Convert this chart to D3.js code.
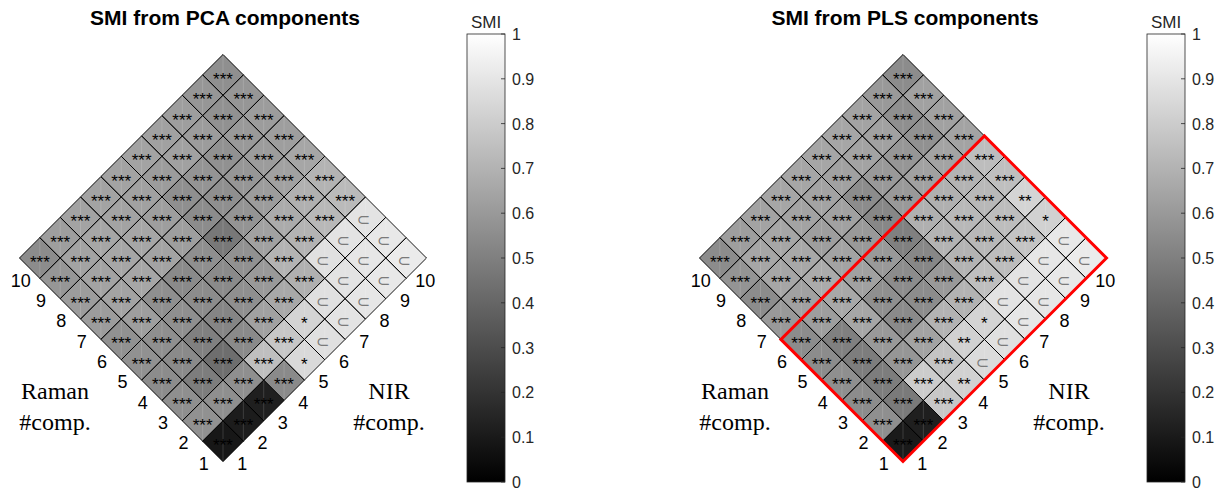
<!DOCTYPE html>
<html>
<head>
<meta charset="utf-8">
<script src="https://cdnjs.cloudflare.com/ajax/libs/d3/7.8.5/d3.min.js"></script>
<style>
body { margin:0; background:#fff; }
text { font-family: Arial, "Liberation Sans", Helvetica, sans-serif; }
</style>
</head>
<body>
<script>
var comps = [1,2,3,4,5,6,7,8,9,10];

// rows = Raman #comp. 1..10, columns = NIR #comp. 1..10
var pcaSMI = [
  [0.09,0.11,0.12,0.54,0.85,0.88,0.89,0.90,0.91,0.92],
  [0.57,0.56,0.56,0.75,0.78,0.83,0.88,0.89,0.90,0.91],
  [0.56,0.49,0.43,0.54,0.63,0.66,0.69,0.88,0.89,0.89],
  [0.55,0.54,0.50,0.52,0.56,0.60,0.70,0.70,0.72,0.73],
  [0.57,0.56,0.56,0.55,0.54,0.57,0.63,0.67,0.69,0.70],
  [0.57,0.62,0.56,0.54,0.56,0.47,0.58,0.61,0.63,0.65],
  [0.61,0.64,0.65,0.64,0.62,0.55,0.56,0.59,0.61,0.62],
  [0.61,0.64,0.65,0.65,0.62,0.56,0.58,0.57,0.60,0.61],
  [0.59,0.64,0.65,0.64,0.63,0.61,0.63,0.61,0.57,0.59],
  [0.55,0.62,0.64,0.64,0.64,0.64,0.63,0.62,0.59,0.56]
];
var plsSMI = [
  [0.10,0.12,0.78,0.82,0.86,0.88,0.90,0.90,0.91,0.92],
  [0.56,0.48,0.80,0.77,0.82,0.83,0.89,0.89,0.90,0.91],
  [0.55,0.49,0.59,0.64,0.70,0.70,0.75,0.74,0.77,0.82],
  [0.56,0.49,0.60,0.54,0.55,0.60,0.70,0.72,0.74,0.83],
  [0.55,0.50,0.65,0.56,0.55,0.53,0.70,0.72,0.72,0.75],
  [0.55,0.62,0.66,0.63,0.60,0.50,0.69,0.69,0.70,0.74],
  [0.60,0.63,0.67,0.64,0.60,0.53,0.60,0.63,0.64,0.64],
  [0.55,0.65,0.66,0.62,0.63,0.55,0.60,0.59,0.57,0.63],
  [0.58,0.65,0.65,0.64,0.64,0.63,0.64,0.63,0.56,0.63],
  [0.55,0.62,0.64,0.65,0.65,0.65,0.65,0.64,0.60,0.55]
];

var pcaSig = [
  ["***","***","***","***","*","⊂","⊂","⊂","⊂","⊂"],
  ["***","***","***","***","***","*","⊂","⊂","⊂","⊂"],
  ["***","***","***","***","***","***","***","⊂","⊂","⊂"],
  ["***","***","***","***","***","***","***","***","***","***"],
  ["***","***","***","***","***","***","***","***","***","***"],
  ["***","***","***","***","***","***","***","***","***","***"],
  ["***","***","***","***","***","***","***","***","***","***"],
  ["***","***","***","***","***","***","***","***","***","***"],
  ["***","***","***","***","***","***","***","***","***","***"],
  ["***","***","***","***","***","***","***","***","***","***"]
];
var plsSig = [
  ["***","***","***","**","⊂","⊂","⊂","⊂","⊂","⊂"],
  ["***","***","***","***","**","*","⊂","⊂","⊂","⊂"],
  ["***","***","***","***","***","***","***","***","***","*"],
  ["***","***","***","***","***","***","***","***","***","**"],
  ["***","***","***","***","***","***","***","***","***","***"],
  ["***","***","***","***","***","***","***","***","***","***"],
  ["***","***","***","***","***","***","***","***","***","***"],
  ["***","***","***","***","***","***","***","***","***","***"],
  ["***","***","***","***","***","***","***","***","***","***"],
  ["***","***","***","***","***","***","***","***","***","***"]
];

var cbTicks = [0,0.1,0.2,0.3,0.4,0.5,0.6,0.7,0.8,0.9,1];
var titles = ["SMI from PCA components","SMI from PLS components"];
var plsBox = {raman: 6, nir: 10};

var panels = [
  {title: titles[0], smi: pcaSMI, sig: pcaSig, cx: 223, box: null},
  {title: titles[1], smi: plsSMI, sig: plsSig, cx: 903, box: plsBox}
];

var svg = d3.select("body").append("svg").attr("width",1225).attr("height",492);

var bottomY = 461.5;
var s = d3.scaleLinear().domain([0, comps.length]).range([0, 203.5]);
var gray = d3.scaleLinear().domain([0,1]).range(["#000","#fff"]);
var cb = d3.scaleLinear().domain([0,1]).range([482, 34]);

// grid point (a along Raman, b along NIR) -> screen
function pt(cx, a, b) { return [cx + s(b) - s(a), bottomY - s(a) - s(b)]; }

var defs = svg.append("defs");
var grad = defs.append("linearGradient").attr("id","cbgrad")
    .attr("x1",0).attr("y1",1).attr("x2",0).attr("y2",0);
grad.append("stop").attr("offset","0%").attr("stop-color",gray(0));
grad.append("stop").attr("offset","100%").attr("stop-color",gray(1));

panels.forEach(function(p, pi){
  var g = svg.append("g");
  var N = comps.length;
  var cells = [];
  comps.forEach(function(r, i){
    comps.forEach(function(n, j){
      cells.push({r: r, n: n, v: p.smi[i][j], sig: p.sig[i][j]});
    });
  });
  function cellPath(d){
    return "M" + [pt(p.cx,d.r-1,d.n-1), pt(p.cx,d.r-1,d.n), pt(p.cx,d.r,d.n), pt(p.cx,d.r,d.n-1)].join("L") + "Z";
  }

  g.selectAll("path.fill").data(cells).join("path")
    .attr("class","fill")
    .attr("d", cellPath)
    .attr("fill", function(d){ return gray(d.v); })
    .attr("stroke", function(d){ return gray(d.v); })
    .attr("stroke-width", 0.5);

  // faint vertical seams of the shaded surface
  var diamond = [pt(p.cx,0,0), pt(p.cx,N,0), pt(p.cx,N,N), pt(p.cx,0,N)];
  defs.append("clipPath").attr("id","clip"+pi)
    .append("path").attr("d","M"+diamond.join("L")+"Z");
  g.append("g").attr("clip-path","url(#clip"+pi+")")
    .selectAll("line").data(d3.range(-N+1, N)).join("line")
    .attr("x1", function(j){ return p.cx + s(j/2)*2; })
    .attr("x2", function(j){ return p.cx + s(j/2)*2; })
    .attr("y1", bottomY - s(2*N)).attr("y2", bottomY)
    .attr("stroke","#fff").attr("stroke-opacity",0.15).attr("stroke-width",1);

  g.selectAll("path.edge").data(cells).join("path")
    .attr("class","edge")
    .attr("d", cellPath)
    .attr("fill","none")
    .attr("stroke","#000")
    .attr("stroke-width",0.9);

  g.selectAll("text.sig").data(cells).join("text")
    .attr("class","sig")
    .attr("x", function(d){ return pt(p.cx, d.r-0.5, d.n-0.5)[0] + (d.sig==="⊂" ? -2 : 0); })
    .attr("y", function(d){ return pt(p.cx, d.r-0.5, d.n-0.5)[1] + (d.sig==="⊂" ? 8 : 10); })
    .attr("text-anchor","middle")
    .attr("font-size", function(d){ return d.sig==="⊂" ? 16 : 17; })
    .attr("fill", function(d){ return d.sig==="⊂" ? "#7a7a7a" : "#000"; })
    .style("font-family", function(d){ return d.sig==="⊂" ? "'DejaVu Sans', sans-serif" : null; })
    .text(function(d){ return d.sig; });

  if (p.box) {
    var b = p.box;
    g.append("path")
      .attr("d","M"+[pt(p.cx,0,0), pt(p.cx,b.raman,0), pt(p.cx,b.raman,b.nir), pt(p.cx,0,b.nir)].join("L")+"Z")
      .attr("fill","none").attr("stroke","#ff0000").attr("stroke-width",3);
  }

  // component numbers along both lower edges
  g.selectAll("text.rl").data(comps).join("text")
    .attr("x", function(k){ return pt(p.cx, k-0.5, 0)[0] - 9; })
    .attr("y", function(k){ return pt(p.cx, k-0.5, 0)[1] + 18.5; })
    .attr("text-anchor","middle").attr("font-size",18)
    .text(function(k){ return k; });
  g.selectAll("text.nl").data(comps).join("text")
    .attr("x", function(k){ return pt(p.cx, 0, k-0.5)[0] + 9; })
    .attr("y", function(k){ return pt(p.cx, 0, k-0.5)[1] + 18.5; })
    .attr("text-anchor","middle").attr("font-size",18)
    .text(function(k){ return k; });

  var serif = "'Liberation Serif', 'Times New Roman', serif";
  [["Raman", p.cx-168], ["NIR", p.cx+166]].forEach(function(a){
    g.append("text").attr("x",a[1]).attr("y",399).attr("text-anchor","middle")
      .attr("font-size",24).style("font-family",serif).text(a[0]);
    g.append("text").attr("x",a[1]).attr("y",430).attr("text-anchor","middle")
      .attr("font-size",24).style("font-family",serif).text("#comp.");
  });

  g.append("text").attr("x",p.cx+2).attr("y",25).attr("text-anchor","middle")
    .attr("font-size",21).attr("font-weight","bold").text(p.title);

  // colorbar
  var cbx = p.cx + 244, cbw = 38;
  g.append("rect").attr("x",cbx).attr("y",cb(1)).attr("width",cbw).attr("height",cb(0)-cb(1))
    .attr("fill","url(#cbgrad)").attr("stroke","#262626").attr("stroke-width",0.8);
  g.selectAll("line.cbt").data(cbTicks).join("line")
    .attr("x1",cbx+cbw-4).attr("x2",cbx+cbw)
    .attr("y1",function(t){ return cb(t); }).attr("y2",function(t){ return cb(t); })
    .attr("stroke","#262626").attr("stroke-width",0.8);
  g.selectAll("text.cbl").data(cbTicks).join("text")
    .attr("x",cbx+cbw+7).attr("y",function(t){ return cb(t)+6; })
    .attr("font-size",16).attr("fill","#262626")
    .text(function(t){ return t; });
  g.append("text").attr("x",cbx+cbw/2).attr("y",28).attr("text-anchor","middle")
    .attr("font-size",17).attr("fill","#262626").text("SMI");
});
</script>
</body>
</html>
